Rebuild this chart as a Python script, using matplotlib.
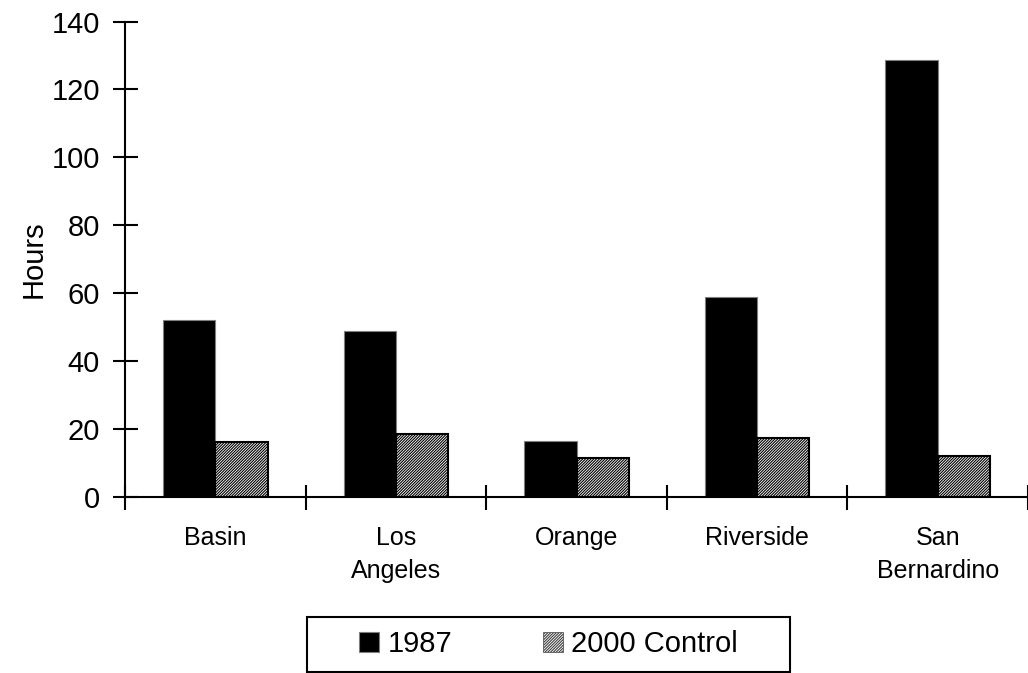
import numpy as np
import matplotlib.pyplot as plt
from matplotlib.patches import Patch, Rectangle

plt.rcParams['font.family'] = ['Liberation Sans', 'DejaVu Sans']
plt.rcParams['hatch.linewidth'] = 0.8

regions = ['Basin', 'Los\nAngeles', 'Orange', 'Riverside', 'San\nBernardino']
hours_1987 = [52.0, 48.9, 16.4, 58.9, 128.6]
hours_2000 = [16.3, 18.7, 11.6, 17.5, 12.1]

W, H = 1028, 673
fig = plt.figure(figsize=(W / 100, H / 100), dpi=100)
ax = fig.add_axes([0.1216, 0.2615, 0.8784, 0.7065])

x = np.arange(len(regions))
w = 0.29
fine_hatch = '/' * 12
ax.bar(x - w / 2, hours_1987, w, color='black', edgecolor='#7f7f7f', linewidth=0.8, label='1987')
ax.bar(x + w / 2, hours_2000, w, color='white', edgecolor='black', hatch=fine_hatch,
       linewidth=1.5, label='2000 Control')

ax.set_xlim(-0.5, len(regions) - 0.5)
ax.set_ylim(0, 140)
ax.set_yticks(range(0, 141, 20))

# category boundaries carry the ticks, names sit centred below
ax.set_xticks(np.arange(len(regions) + 1) - 0.5)
ax.set_xticklabels([])
ax.set_xticks(x, minor=True)
ax.set_xticklabels(regions, minor=True, fontsize=18, linespacing=1.45, va='top')
ax.tick_params(axis='x', which='minor', length=0, pad=21)
ax.tick_params(axis='x', which='major', direction='inout', length=18, width=1.5)
ax.tick_params(axis='y', direction='inout', length=18, width=1.5, labelsize=21, pad=9)

for side in ('top', 'right'):
    ax.spines[side].set_visible(False)
for side in ('left', 'bottom'):
    ax.spines[side].set_linewidth(1.5)

ax.set_ylabel('Hours', fontsize=21, labelpad=3)

# legend: plain box drawn in pixel coords, entries centred inside it
box = (307, 617, 790, 672)
fig.patches.append(Rectangle((box[0] / W, 1 - box[3] / H), (box[2] - box[0]) / W,
                             (box[3] - box[1]) / H, transform=fig.transFigure,
                             facecolor='white', edgecolor='black', linewidth=1.5))
handles = [Patch(facecolor='black', edgecolor='#7f7f7f', linewidth=0.8),
           Patch(facecolor='white', edgecolor='#404040', hatch=fine_hatch, linewidth=0.5)]
fig.legend(handles, ['1987', '2000 Control'], loc='center',
           bbox_to_anchor=((box[0] + box[2]) / 2 / W, 1 - (box[1] + box[3]) / 2 / H),
           ncol=2, fontsize=21, frameon=False,
           handlelength=0.68, handleheight=0.68, handletextpad=0.3,
           columnspacing=3.1, borderpad=0, borderaxespad=0)

fig.savefig('out.png', dpi=100)
